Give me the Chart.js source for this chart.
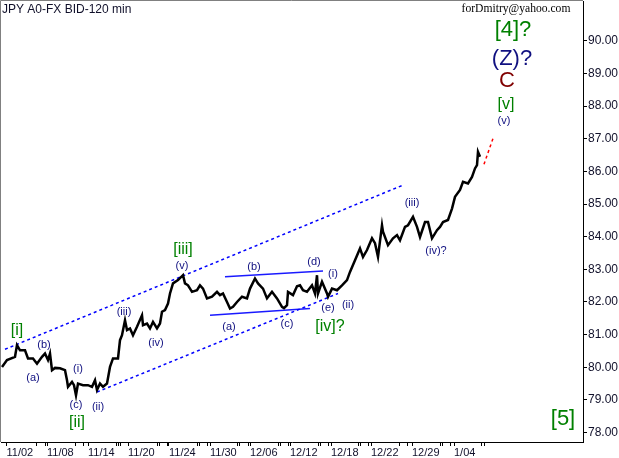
<!DOCTYPE html>
<html>
<head>
<meta charset="utf-8">
<title>JPY A0-FX BID-120 min</title>
<script src="https://cdn.jsdelivr.net/npm/chart.js@4.4.1/dist/chart.umd.min.js"></script>
<style>
    html, body { margin: 0; padding: 0; background: #ffffff; }
    canvas { display: block; }
</style>
</head>
<body>
<canvas id="waveChart" width="619" height="458"></canvas>
<script>
// 120-min bars, x = bar number since the start of the window
const priceBars = [
    1, 6, 14, 16, 19, 24, 27, 32, 36, 41,
    44, 47, 49, 51, 54, 59, 64, 66, 67, 71,
    73, 75, 77, 82, 87, 91, 94, 96, 99, 102,
    106, 109, 112, 117, 119, 121, 124, 126, 129, 132,
    136, 141, 142, 146, 149, 152, 156, 159, 161, 164,
    167, 169, 172, 177, 182, 184, 187, 191, 196, 199,
    202, 206, 211, 216, 219, 222, 226, 229, 232, 236,
    241, 246, 249, 254, 257, 262, 266, 271, 276, 281,
    283, 286, 287, 292, 296, 299, 302, 306, 311, 314,
    316, 317, 321, 326, 327, 331, 336, 341, 346, 349,
    354, 359, 362, 366, 371, 374, 377, 381, 382, 387,
    392, 396, 399, 404, 407, 412, 416, 419, 424, 427,
    431, 436, 439, 442, 447, 451, 454, 459, 462, 467,
    471, 474, 476, 477, 479
];
const priceValues = [
    80.01, 80.22, 80.32, 80.68, 80.52, 80.52, 80.27, 80.27, 80.11, 80.32,
    80.42, 80.22, 80.42, 79.91, 79.98, 79.97, 79.91, 79.60, 79.40, 79.55,
    79.45, 79.14, 79.50, 79.45, 79.45, 79.40, 79.60, 79.30, 79.50, 79.40,
    79.50, 80.01, 80.27, 80.27, 80.83, 80.98, 81.44, 81.14, 81.19, 80.98,
    81.24, 81.59, 81.29, 81.34, 81.19, 81.39, 81.19, 81.34, 81.70, 81.75,
    81.95, 82.26, 82.57, 82.67, 82.82, 82.57, 82.51, 82.31, 82.36, 82.51,
    82.41, 82.11, 82.16, 82.31, 82.21, 82.26, 82.00, 81.80, 81.85, 82.00,
    82.16, 82.11, 82.41, 82.72, 82.57, 82.41, 82.11, 82.31, 82.11, 81.85,
    81.81, 81.90, 82.31, 82.21, 82.48, 82.51, 82.36, 82.31, 82.51, 82.26,
    82.82, 82.26, 82.62, 82.26, 82.16, 82.41, 82.36, 82.51, 82.67, 82.92,
    83.28, 83.64, 83.38, 83.59, 83.95, 83.80, 83.38, 84.35, 84.15, 83.74,
    83.95, 84.05, 83.89, 84.30, 84.35, 84.61, 84.30, 83.99, 84.45, 84.45,
    83.95, 84.20, 84.30, 84.45, 84.51, 84.86, 85.22, 85.43, 85.68, 85.63,
    85.83, 86.09, 86.19, 86.60, 86.45
];

// trend channel and triangle lines (two end points each)
const channelUpperBars = [4, 402];
const channelUpperPrices = [80.55, 85.58];
const channelLowerBars = [96, 337];
const channelLowerPrices = [79.24, 82.26];
const triangleUpperBars = [224, 322];
const triangleUpperPrices = [82.77, 82.95];
const triangleLowerBars = [209, 309];
const triangleLowerPrices = [81.59, 81.80];
const projectionBars = [483, 492];
const projectionPrices = [86.22, 87.01];

// axis ticks
const yTickValues = [78, 79, 80, 81, 82, 83, 84, 85, 86, 87, 88, 89, 90];
const dateTickBars = [5.5, 46, 87, 127, 168, 209, 249, 289, 330, 370, 411, 453];
const dateTickLabels = ['11/02', '11/08', '11/14', '11/20', '11/24', '11/30', '12/06', '12/12', '12/18', '12/22', '12/29', '1/04'];
const dayTickBars = [35, 44, 75, 82, 115, 117, 119, 156, 158, 166, 196, 198, 206, 236, 238, 247, 277, 279, 287, 317, 319, 327, 357, 359, 367, 398, 406, 439, 441, 449, 481, 483];

// wave count labels: text, bar, price, degree
const waveTexts = ['[i]', '(a)', '(b)', '(i)', '(c)', '[ii]', '(ii)', '(iii)', '(iv)', '[iii]', '(v)',
    '(a)', '(b)', '(c)', '(d)', '(i)', '(e)', '(ii)', '[iv]?', '(iii)', '(iv)?',
    '[v]', '(v)', 'C', '(Z)?', '[4]?', '[5]'];
const waveBars = [16, 32, 43, 77, 75, 76, 97, 123, 155, 182, 181,
    228, 253, 286, 313, 332, 327, 347, 329, 411, 435,
    505, 503, 506, 511, 512, 562];
const wavePrices = [81.13, 79.67, 80.68, 79.96, 78.84, 78.29, 78.77, 81.70, 80.73, 83.61, 83.11,
    81.24, 83.08, 81.32, 83.23, 82.87, 81.82, 81.92, 81.24, 85.02, 83.56,
    88.06, 87.56, 88.77, 89.43, 90.33, 78.41];
const waveDegrees = ['minute', 'minuette', 'minuette', 'minuette', 'minuette', 'minute', 'minuette', 'minuette', 'minuette', 'minute', 'minuette',
    'minuette', 'minuette', 'minuette', 'minuette', 'minuette', 'minuette', 'minuette', 'minute', 'minuette', 'minuette',
    'minute', 'minuette', 'minor', 'intermediate', 'primary', 'primary'];

const SANS = '"Liberation Sans", Arial, sans-serif';

class WaveChart {
    constructor(canvasId) {
        this.canvas = document.getElementById(canvasId);
        this.colors = {
            price: '#000000',
            channel: '#0000ff',
            triangle: '#1a1aff',
            projection: '#ff0000',
            axisText: '#10102a',
            frame: '#808080'
        };
        this.degreeStyles = {
            minuette: { font: '11px ' + SANS, color: '#101080' },
            minute: { font: '16px ' + SANS, color: '#008000' },
            minor: { font: '22px ' + SANS, color: '#800000' },
            intermediate: { font: '22px ' + SANS, color: '#101080' },
            primary: { font: '22px ' + SANS, color: '#008000' }
        };
        this.create();
    }

    toPoints(bars, prices) {
        return bars.map((b, i) => ({ x: b, y: prices[i] }));
    }

    guideLine(bars, prices, color, width, dash) {
        return {
            data: this.toPoints(bars, prices),
            borderColor: color,
            borderWidth: width,
            borderDash: dash,
            pointRadius: 0,
            fill: false
        };
    }

    create() {
        const self = this;

        // background, frame, title and wave labels
        const decorations = {
            id: 'decorations',
            beforeDraw(chart) {
                const ctx = chart.ctx;
                ctx.save();
                ctx.fillStyle = '#ffffff';
                ctx.fillRect(0, 0, chart.width, chart.height);
                ctx.strokeStyle = self.colors.frame;
                ctx.lineWidth = 1;
                ctx.beginPath();
                ctx.moveTo(0.5, chart.chartArea.bottom);
                ctx.lineTo(0.5, 0.5);
                ctx.lineTo(chart.chartArea.right, 0.5);
                ctx.stroke();
                ctx.restore();
            },
            afterDatasetsDraw(chart) {
                const ctx = chart.ctx;
                const xs = chart.scales.x;
                const ys = chart.scales.y;
                ctx.save();
                ctx.textAlign = 'center';
                ctx.textBaseline = 'middle';
                waveTexts.forEach((text, i) => {
                    const style = self.degreeStyles[waveDegrees[i]];
                    ctx.font = style.font;
                    ctx.fillStyle = style.color;
                    ctx.fillText(text, xs.getPixelForValue(waveBars[i]), ys.getPixelForValue(wavePrices[i]));
                });
                ctx.restore();
            },
            afterDraw(chart) {
                const ctx = chart.ctx;
                ctx.save();
                ctx.textBaseline = 'middle';
                ctx.fillStyle = '#10102a';
                ctx.textAlign = 'left';
                ctx.font = '12px ' + SANS;
                ctx.fillText('JPY A0-FX BID-120 min', 2, 10);
                ctx.fillStyle = '#000000';
                ctx.textAlign = 'center';
                ctx.font = '11.6px "Liberation Serif", "Times New Roman", serif';
                ctx.fillText('forDmitry@yahoo.com', 516, 9);
                ctx.restore();
            }
        };

        this.chart = new Chart(this.canvas.getContext('2d'), {
            type: 'line',
            data: {
                datasets: [
                    {
                        data: this.toPoints(priceBars, priceValues),
                        borderColor: this.colors.price,
                        borderWidth: 2.5,
                        pointRadius: 0,
                        tension: 0,
                        fill: false
                    },
                    this.guideLine(channelUpperBars, channelUpperPrices, this.colors.channel, 1.5, [3, 3]),
                    this.guideLine(channelLowerBars, channelLowerPrices, this.colors.channel, 1.5, [3, 3]),
                    this.guideLine(triangleUpperBars, triangleUpperPrices, this.colors.triangle, 1.5, []),
                    this.guideLine(triangleLowerBars, triangleLowerPrices, this.colors.triangle, 1.5, []),
                    this.guideLine(projectionBars, projectionPrices, this.colors.projection, 1.5, [3, 3])
                ]
            },
            options: {
                responsive: false,
                animation: false,
                devicePixelRatio: 1,
                layout: { padding: { left: 1, top: 1, right: 0, bottom: 0 } },
                plugins: {
                    legend: { display: false },
                    tooltip: { enabled: false }
                },
                scales: {
                    x: {
                        type: 'linear',
                        min: 0,
                        max: 582,
                        afterFit: (scale) => {
                            scale.height = 16;
                            scale.paddingLeft = 0;
                            scale.paddingRight = 0;
                        },
                        afterBuildTicks: (scale) => {
                            const all = dateTickBars.concat(dayTickBars).sort((a, b) => a - b);
                            scale.ticks = all.map(v => ({ value: v }));
                        },
                        grid: {
                            drawOnChartArea: false,
                            drawTicks: true,
                            tickLength: 4,
                            color: '#000000'
                        },
                        border: { display: true, color: '#000000', width: 1 },
                        ticks: {
                            autoSkip: false,
                            maxRotation: 0,
                            minRotation: 0,
                            align: 'start',
                            padding: 0,
                            color: this.colors.axisText,
                            font: { family: SANS, size: 11 },
                            callback: (value) => {
                                const idx = dateTickBars.indexOf(value);
                                return idx >= 0 ? dateTickLabels[idx] : '';
                            }
                        }
                    },
                    y: {
                        position: 'right',
                        min: 77.71,
                        max: 91.22,
                        afterFit: (scale) => {
                            scale.width = 36;
                            scale.paddingTop = 0;
                            scale.paddingBottom = 0;
                        },
                        afterBuildTicks: (scale) => {
                            scale.ticks = yTickValues.map(v => ({ value: v }));
                        },
                        grid: {
                            drawOnChartArea: false,
                            drawTicks: true,
                            tickLength: 4,
                            color: '#000000'
                        },
                        border: { display: true, color: '#000000', width: 1 },
                        ticks: {
                            autoSkip: false,
                            padding: 1,
                            color: this.colors.axisText,
                            font: { family: SANS, size: 12 },
                            callback: (value) => Number(value).toFixed(2)
                        }
                    }
                }
            },
            plugins: [decorations]
        });
    }
}

window.waveChart = new WaveChart('waveChart');
</script>
</body>
</html>
